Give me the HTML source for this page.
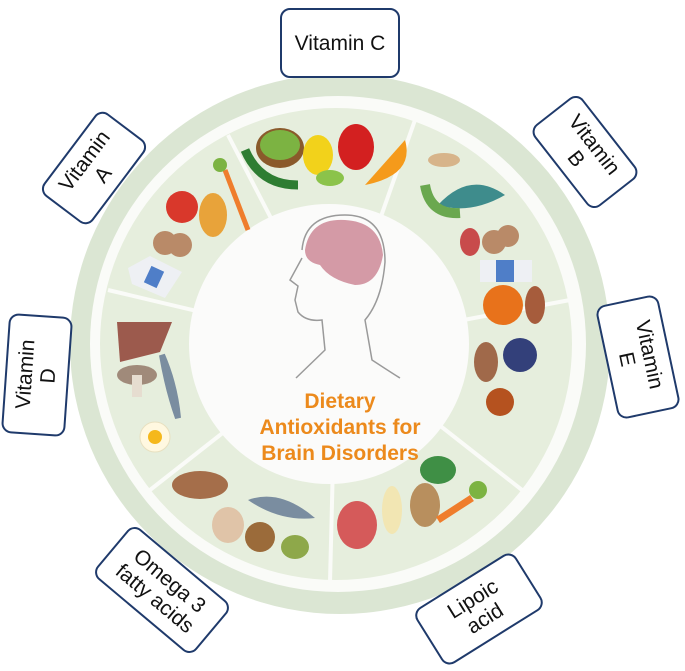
<!DOCTYPE html>
<html><head><meta charset="utf-8"><style>
body{margin:0;width:685px;height:671px;background:#fff;overflow:hidden;position:relative;font-family:"Liberation Sans",sans-serif}
.lab{position:absolute;border:2px solid #1f3a6b;border-radius:10px;background:#fff;display:flex;align-items:center;justify-content:center;text-align:center;font-size:21px;line-height:23px;color:#111;box-sizing:border-box}
</style></head><body>
<svg width="685" height="671" style="position:absolute;left:0;top:0">
<circle cx="340" cy="344" r="270" fill="#dbe6d3"/>
<circle cx="338" cy="344" r="248" fill="#fafbf8"/>
<circle cx="336" cy="344" r="236" fill="#e6eedd"/>
<g stroke="#fafbf8" stroke-width="4">
<line x1="336" y1="344" x2="415" y2="120"/>
<line x1="336" y1="344" x2="570" y2="300"/>
<line x1="336" y1="344" x2="522" y2="490"/>
<line x1="336" y1="344" x2="330" y2="582"/>
<line x1="336" y1="344" x2="150" y2="490"/>
<line x1="336" y1="344" x2="108" y2="290"/>
<line x1="336" y1="344" x2="228" y2="135"/>
</g>
<circle cx="329" cy="344" r="140" fill="#fbfbfa"/>
<!-- Vitamin C foods -->
<ellipse cx="280" cy="148" rx="24" ry="20" fill="#8a5a2b"/><ellipse cx="280" cy="145" rx="20" ry="15" fill="#7cb342"/>
<path d="M245 150 Q260 185 298 185" stroke="#2e7d32" stroke-width="9" fill="none"/>
<ellipse cx="318" cy="155" rx="15" ry="20" fill="#f2d21b"/><ellipse cx="330" cy="178" rx="14" ry="8" fill="#8bc34a"/>
<ellipse cx="356" cy="147" rx="18" ry="23" fill="#d32020"/>
<path d="M365 185 L405 140 Q415 175 365 185Z" fill="#f59a1b"/>
<!-- Vitamin A -->
<circle cx="182" cy="207" r="16" fill="#d9382b"/><ellipse cx="213" cy="215" rx="14" ry="22" fill="#e8a33a"/>
<path d="M225 170 L248 230" stroke="#ef7d2c" stroke-width="5"/><circle cx="220" cy="165" r="7" fill="#7cb342"/>
<circle cx="165" cy="243" r="12" fill="#b98a68"/><circle cx="180" cy="245" r="12" fill="#b98a68"/>
<path d="M128 268 L150 256 L182 272 L165 298 L132 284Z" fill="#eef0f4"/><rect x="147" y="268" width="14" height="18" fill="#4f7ec8" transform="rotate(25 154 277)"/>
<!-- Vitamin B -->
<ellipse cx="444" cy="160" rx="16" ry="7" fill="#d7b48a"/>
<path d="M438 205 Q470 170 505 195 Q470 215 438 205Z" fill="#3e8c8c"/>
<path d="M425 185 Q430 215 460 213" stroke="#6aa84f" stroke-width="10" fill="none"/>
<ellipse cx="470" cy="242" rx="10" ry="14" fill="#c84b4b"/>
<circle cx="494" cy="242" r="12" fill="#b98a68"/><circle cx="508" cy="236" r="11" fill="#b98a68"/>
<rect x="480" y="260" width="52" height="22" fill="#eef0f4"/><rect x="496" y="260" width="18" height="22" fill="#4f7ec8"/>
<!-- Vitamin E -->
<circle cx="503" cy="305" r="20" fill="#e8721b"/>
<ellipse cx="535" cy="305" rx="10" ry="19" fill="#a65c3c"/>
<circle cx="520" cy="355" r="17" fill="#33407a"/>
<ellipse cx="486" cy="362" rx="12" ry="20" fill="#a0694a"/>
<circle cx="500" cy="402" r="14" fill="#b5521f"/>
<!-- Lipoic -->
<ellipse cx="357" cy="525" rx="20" ry="24" fill="#d55a5a"/>
<ellipse cx="392" cy="510" rx="10" ry="24" fill="#f2e6b3"/>
<ellipse cx="425" cy="505" rx="15" ry="22" fill="#b88f5e"/>
<ellipse cx="438" cy="470" rx="18" ry="14" fill="#3f8f45"/>
<path d="M438 520 L472 498" stroke="#ef7d2c" stroke-width="7"/><circle cx="478" cy="490" r="9" fill="#7cb342"/>
<!-- Omega -->
<ellipse cx="200" cy="485" rx="28" ry="14" fill="#a56e4a"/>
<path d="M248 500 Q280 488 315 518 Q280 522 248 500Z" fill="#7a8da0"/>
<ellipse cx="228" cy="525" rx="16" ry="18" fill="#e0c4a8"/>
<circle cx="260" cy="537" r="15" fill="#9b6b3a"/>
<ellipse cx="295" cy="547" rx="14" ry="12" fill="#8ea84a"/>
<!-- Vitamin D -->
<path d="M117 322 L172 322 L160 352 L120 362Z" fill="#9c5a4d"/>
<ellipse cx="137" cy="375" rx="20" ry="10" fill="#a08a7a"/><rect x="132" y="375" width="10" height="22" fill="#e6ddd0"/>
<path d="M162 355 Q175 385 178 418 Q168 390 162 355Z" fill="#7a8da0" stroke="#7a8da0" stroke-width="6"/>
<circle cx="155" cy="437" r="15" fill="#fff8e0" stroke="#e8e0c0"/><circle cx="155" cy="437" r="7" fill="#f5b81b"/>
<!-- head -->
<path d="M302 250 Q305 215 345 215 Q385 215 385 262 Q382 300 365 320 L372 360 Q395 375 400 378 M302 258 L290 280 L298 286 L295 300 L298 312 Q306 322 322 320 L325 350 L296 378" stroke="#9a9a9a" stroke-width="1.5" fill="none"/>
<path d="M305 250 Q310 218 345 220 Q380 222 383 255 Q378 285 355 285 Q330 280 320 265 Q305 262 305 250Z" fill="#d49aa6"/>
<text x="340" y="408" font-family="Liberation Sans,sans-serif" font-weight="bold" font-size="21" fill="#ec8a1c" text-anchor="middle">Dietary</text>
<text x="340" y="434" font-family="Liberation Sans,sans-serif" font-weight="bold" font-size="21" fill="#ec8a1c" text-anchor="middle">Antioxidants for</text>
<text x="340" y="460" font-family="Liberation Sans,sans-serif" font-weight="bold" font-size="21" fill="#ec8a1c" text-anchor="middle">Brain Disorders</text>
</svg>
<div class="lab" style="left:280px;top:8px;width:120px;height:70px">Vitamin C</div>
<div class="lab" style="left:42px;top:137px;width:104px;height:62px;transform:rotate(-53deg)">Vitamin<br>A</div>
<div class="lab" style="left:533px;top:121px;width:104px;height:62px;transform:rotate(52deg)">Vitamin<br>B</div>
<div class="lab" style="left:-23px;top:343px;width:120px;height:64px;transform:rotate(-86deg)">Vitamin<br>D</div>
<div class="lab" style="left:580px;top:325px;width:116px;height:64px;transform:rotate(78deg)">Vitamin<br>E</div>
<div class="lab" style="left:97px;top:557px;width:130px;height:66px;transform:rotate(40deg)">Omega 3<br>fatty acids</div>
<div class="lab" style="left:420px;top:576px;width:118px;height:66px;transform:rotate(-32deg)">Lipoic<br>acid</div>
</body></html>
